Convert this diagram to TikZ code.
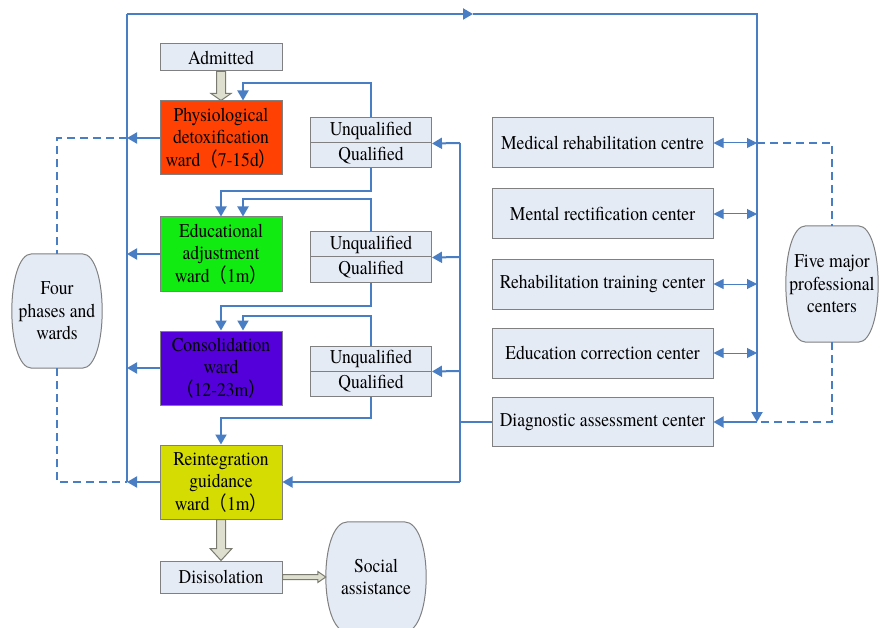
\documentclass[tikz,border=0pt]{standalone}
\usepackage{fontspec}
\setmainfont{texgyretermes-regular.otf}[BoldFont=texgyretermes-bold.otf, FakeStretch=0.9]
\newfontfamily\cjkfont{Noto Sans CJK SC}[FakeStretch=0.9]
\usetikzlibrary{arrows.meta,calc,backgrounds}
\definecolor{lblue}{HTML}{4A7EC4}
\definecolor{boxfill}{HTML}{E4EBF5}
\definecolor{boxdraw}{HTML}{808080}
\definecolor{hfill}{HTML}{DEDFCF}
\definecolor{hdraw}{HTML}{7A7A70}
\definecolor{cphys}{HTML}{FF4204}
\definecolor{cedu}{HTML}{12EB12}
\definecolor{ccons}{HTML}{5400DA}
\definecolor{creint}{HTML}{D4DC02}
\newcommand{\fwl}{{\cjkfont （}}
\newcommand{\fwr}{{\cjkfont ）}}
\newcommand{\barrelpath}[2]{%
  \begin{scope}[on background layer]
  \draw[barrel] ($(#1.north west)+(#2,0)$) -- ($(#1.north east)+(-#2,0)$)
    .. controls ($(#1.north east)+(#2/3,0)$) and ($(#1.south east)+(#2/3,0)$) .. ($(#1.south east)+(-#2,0)$)
    -- ($(#1.south west)+(#2,0)$)
    .. controls ($(#1.south west)+(-#2/3,0)$) and ($(#1.north west)+(-#2/3,0)$) .. cycle;
  \end{scope}}
\begin{document}
\begin{tikzpicture}[x=1pt,y=-1pt,
  every node/.style={font=\fontsize{19.5}{22.5}\selectfont, inner sep=1pt, align=center},
  ward/.style={draw=boxdraw, line width=1pt, minimum width=122pt, minimum height=74pt},
  gbox/.style={draw=boxdraw, line width=1pt, fill=boxfill},
  qbox/.style={gbox, minimum width=121pt, minimum height=25pt},
  cbox/.style={gbox, minimum width=221pt, minimum height=50pt},
  barrel/.style={draw=boxdraw, fill=boxfill, line width=1pt},
  bl/.style={draw=lblue, line width=2pt},
  arr/.style={-{Triangle[length=10pt,width=11pt]}},
  dbl/.style={draw=lblue, line width=1pt, {Triangle[length=10pt,width=10pt]}-{Triangle[length=10pt,width=10pt]}},
  dsh/.style={draw=lblue, line width=2pt, dash pattern=on 8pt off 5pt},
  hollow/.style={draw=hdraw, fill=hfill, line width=1pt}]
\useasboundingbox (0,0) rectangle (880,628);
% ward nodes
\node[gbox, minimum width=122pt, minimum height=27pt] (adm) at (221,57.5) {Admitted};
\node[ward, fill=cphys] (phys) at (221,138) {Physiological\\detoxification\\ward\fwl 7-15d\fwr};
\node[ward, fill=cedu] (edu) at (221,254) {Educational\\adjustment\\ward\fwl 1m\fwr};
\node[ward, fill=ccons] (cons) at (221,368) {Consolidation\\ward\\\fwl 12-23m\fwr};
\node[ward, fill=creint] (reint) at (221,482) {Reintegration\\guidance\\ward\fwl 1m\fwr};
\node[gbox, minimum width=122pt, minimum height=32pt] (dis) at (221,577) {Disisolation};
% unqualified / qualified
\node[qbox] (u1) at (371,130.5) {Unqualified};
\node[qbox] (q1) at (371,155.5) {Qualified};
\node[qbox] (u2) at (371,244.5) {Unqualified};
\node[qbox] (q2) at (371,269.5) {Qualified};
\node[qbox] (u3) at (371,358.5) {Unqualified};
\node[qbox] (q3) at (371,383.5) {Qualified};
% centers
\node[cbox] (med) at (602.5,143) {Medical rehabilitation centre};
\node[cbox] (men) at (602.5,214) {Mental rectification center};
\node[cbox] (reh) at (602.5,284) {Rehabilitation training center};
\node[cbox] (educ) at (602.5,353) {Education correction center};
\node[cbox, minimum height=49pt] (diag) at (602.5,422) {Diagnostic assessment center};
% barrels
\node[minimum width=90pt, minimum height=114pt, inner sep=0pt] (four) at (57,311) {Four\\phases and\\wards};
\barrelpath{four}{20}
\node[minimum width=92pt, minimum height=116pt, inner sep=0pt] (five) at (832,284) {Five major\\professional\\centers};
\barrelpath{five}{20}
\node[minimum width=100pt, minimum height=110pt, inner sep=0pt] (soc) at (376,577) {Social\\assistance};
\barrelpath{soc}{22}
% coordinates
\coordinate (tl) at (127,14);
\coordinate (tm) at (473,14);
\coordinate (tr) at (757,14);
\coordinate (lb) at (reint.west -| tl);
\coordinate (rb) at (diag.east -| tr);
\coordinate (v1) at (460,143);
\coordinate (v2) at (460,257);
\coordinate (v3) at (460,371);
\coordinate (v4) at (reint.east -| v1);
% outer loop
\draw[bl] (lb) -- (tl);
\draw[bl,arr] (tl) -- (tm);
\draw[bl,arr] (tm) -- (tr) -- (rb);
\draw[bl,arr] (rb) -- (diag.east);
% wards to left line
\draw[bl,arr] (phys.west) -- (phys.west -| tl);
\draw[bl,arr] (edu.west) -- (edu.west -| tl);
\draw[bl,arr] (cons.west) -- (cons.west -| tl);
\draw[bl,arr] (reint.west) -- (lb);
% dashed links
\draw[dsh] (phys.west -| tl) -| (four.north);
\draw[dsh] (four.south) |- (lb);
\draw[dsh] (med.east -| tr) -| (five.north);
\draw[dsh] (five.south) |- (rb);
% double arrows
\draw[dbl] (med.east) -- (med.east -| tr);
\draw[dbl] (men.east) -- (men.east -| tr);
\draw[dbl] (reh.east) -- (reh.east -| tr);
\draw[dbl] (educ.east) -- (educ.east -| tr);
% feedback loops
\draw[bl,arr] (u1.north) -- ++(0,-34) -| ($(phys.north)+(22,0)$);
\draw[bl,arr] (q1.south) -- ++(0,23) -| (edu.north);
\draw[bl,arr] (u2.north) -- ++(0,-32) -| ($(edu.north)+(22,0)$);
\draw[bl,arr] (q2.south) -- ++(0,23) -| (cons.north);
\draw[bl,arr] (u3.north) -- ++(0,-30) -| ($(cons.north)+(22,0)$);
\draw[bl,arr] (q3.south) -- ++(0,21) -| (reint.north);
% diagnostic distribution
\draw[bl] (diag.west) -- (diag.west -| v1);
\draw[bl] (v1) -- (v4);
\draw[bl,arr] (v1) -- (u1.south east);
\draw[bl,arr] (v2) -- (u2.south east);
\draw[bl,arr] (v3) -- (u3.south east);
\draw[bl,arr] (v4) -- (reint.east);
% hollow arrows
\draw[hollow] ($(adm.south)+(-4.5,0)$) -- ($(phys.north)+(-4.5,-7)$) -- ($(phys.north)+(-10,-7)$) -- (phys.north)
  -- ($(phys.north)+(10,-7)$) -- ($(phys.north)+(4.5,-7)$) -- ($(adm.south)+(4.5,0)$) -- cycle;
\draw[hollow] ($(reint.south)+(-4.5,0)$) -- ($(dis.north)+(-4.5,-12)$) -- ($(dis.north)+(-11,-12)$) -- (dis.north)
  -- ($(dis.north)+(11,-12)$) -- ($(dis.north)+(4.5,-12)$) -- ($(reint.south)+(4.5,0)$) -- cycle;
\draw[hollow] ($(dis.east)+(0,-2.5)$) -- ($(soc.west)+(-8,-2.5)$) -- ($(soc.west)+(-8,-5.5)$) -- (soc.west)
  -- ($(soc.west)+(-8,5.5)$) -- ($(soc.west)+(-8,2.5)$) -- ($(dis.east)+(0,2.5)$) -- cycle;
\end{tikzpicture}
\end{document}
